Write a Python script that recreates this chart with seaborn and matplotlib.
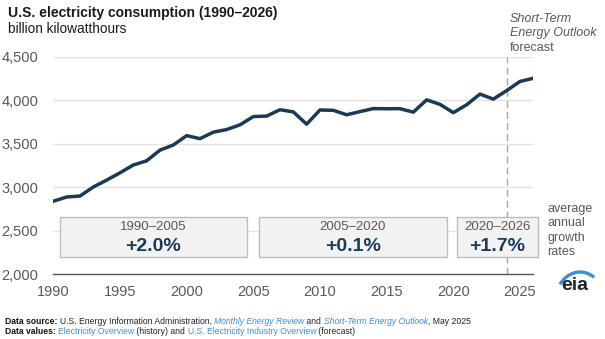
import numpy as np
import pandas as pd
import matplotlib
matplotlib.use("Agg")
import matplotlib.pyplot as plt
import seaborn as sns
from matplotlib.patches import Rectangle, Arc

years = list(range(1990, 2027))
consumption = [2837, 2886, 2897, 3001, 3080, 3164, 3254, 3302, 3425, 3484,
               3592, 3557, 3632, 3662, 3716, 3811, 3817, 3890, 3865, 3724,
               3887, 3883, 3832, 3868, 3903, 3901, 3902, 3862, 4003, 3952,
               3856, 3947, 4070, 4012, 4110, 4215, 4252]
period_labels = ["1990\u20132005", "2005\u20132020", "2020\u20132026"]
period_rates = ["+2.0%", "+0.1%", "+1.7%"]
period_starts = [1990.5, 2005.4, 2020.25]
period_ends = [2004.5, 2019.5, 2026.35]
yticks = [2000, 2500, 3000, 3500, 4000, 4500]
xticks = [1990, 1995, 2000, 2005, 2010, 2015, 2020, 2025]
forecast_start = 2024

sns.set_theme(style="white")
plt.rcParams['font.family'] = ['Liberation Sans', 'DejaVu Sans']

df = pd.DataFrame({"year": years, "value": consumption})

fig = plt.figure(figsize=(6.05, 3.39), dpi=100)
ax = fig.add_axes([53.3/605, 1-274/339, (533.3-53.3)/605, (274-56.7)/339])

navy = "#1c3a56"
gray_txt = "#595959"

for yv in yticks[1:]:
    ax.axhline(yv, color="#e3e3e3", lw=1.0, zorder=0)

# boxes
for s, e, lab, rate in zip(period_starts, period_ends, period_labels, period_rates):
    r = Rectangle((s, 2200), e - s, 453, facecolor="#f2f2f2", edgecolor="#bdbdbd",
                  lw=1.0, zorder=2, clip_on=False)
    ax.add_patch(r)
    cx = (s + e) / 2
    ax.text(cx, 2545, lab, ha="center", va="center", fontsize=9.5, color=gray_txt, zorder=3)
    ax.text(cx, 2318, rate, ha="center", va="center", fontsize=14, fontweight="bold",
            color=navy, zorder=3)

ax.axvline(forecast_start, color="#a6a6a6", lw=1.0, ls=(0, (5, 3)), zorder=1, ymax=1.0)

sns.lineplot(data=df, x="year", y="value", ax=ax, color=navy, lw=2.5, zorder=4)

ax.set_xlim(1990, 2026)
ax.set_ylim(2000, 4500)
ax.set_xticks(xticks)
ax.set_yticks(yticks)
ax.set_yticklabels([f"{v:,}" for v in yticks])
ax.set_xlabel("")
ax.set_ylabel("")
for sp in ["top", "right", "left"]:
    ax.spines[sp].set_visible(False)
ax.spines["bottom"].set_color("#555555")
ax.spines["bottom"].set_linewidth(1.0)
ax.tick_params(axis="x", direction="in", length=4, width=1, color="#555555",
               labelsize=10.5, labelcolor=gray_txt, pad=8)
ax.tick_params(axis="y", length=0, labelsize=10.5, labelcolor=gray_txt, pad=11)
ax.patch.set_alpha(0)

# titles
fig.text(8/605, 1-13/339, "U.S. electricity consumption (1990\u20132026)", fontsize=10,
         fontweight="bold", color="#1a1a1a", va="center", ha="left")
fig.text(8/605, 1-29/339, "billion kilowatthours", fontsize=9.8, color="#1a1a1a",
         va="center", ha="left")

# forecast annotation
fig.text(510/605, 1-19/339, "Short-Term", fontsize=9, style="italic", color=gray_txt, va="center")
fig.text(510/605, 1-33/339, "Energy Outlook", fontsize=9, style="italic", color=gray_txt, va="center")
fig.text(510/605, 1-48/339, "forecast", fontsize=9, color=gray_txt, va="center")

for i, w in enumerate(["average", "annual", "growth", "rates"]):
    fig.text(547/605, 1-(209 + 14.3*i)/339, w, fontsize=9, color=gray_txt,
             va="center", ha="left")

# eia logo
fig.text(575/605, 1-286/339, "eia", fontsize=14, fontweight="bold", color="#222222",
         ha="center", va="center")
logo_ax = fig.add_axes([0, 0, 1, 1], facecolor="none")
logo_ax.set_xlim(0, 605)
logo_ax.set_ylim(0, 339)
logo_ax.axis("off")
logo_ax.add_patch(Arc((580, 339-300), 48, 56, angle=0, theta1=58, theta2=142,
                      color="#3d8fd1", lw=2.4))

# footer
fig.canvas.draw()
renderer = fig.canvas.get_renderer()

def seq(x_px, y_px, parts):
    x = x_px
    for txt, kw in parts:
        t = fig.text(x/605, 1-y_px/339, txt, fontsize=6.2, va="center", ha="left", **kw)
        bb = t.get_window_extent(renderer=renderer)
        x += bb.width

blue = "#3c8fd0"
seq(5, 321, [("Data source: ", dict(fontweight="bold", color="#111111")),
             ("U.S. Energy Information Administration, ", dict(color="#222222")),
             ("Monthly Energy Review", dict(color=blue, style="italic")),
             (" and ", dict(color="#222222")),
             ("Short-Term Energy Outlook", dict(color=blue, style="italic")),
             (", May 2025", dict(color="#222222"))])
seq(5, 331, [("Data values: ", dict(fontweight="bold", color="#111111")),
             ("Electricity Overview", dict(color=blue)),
             (" (history) and ", dict(color="#222222")),
             ("U.S. Electricity Industry Overview", dict(color=blue)),
             (" (forecast)", dict(color="#222222"))])

fig.savefig("out.png", dpi=100)
